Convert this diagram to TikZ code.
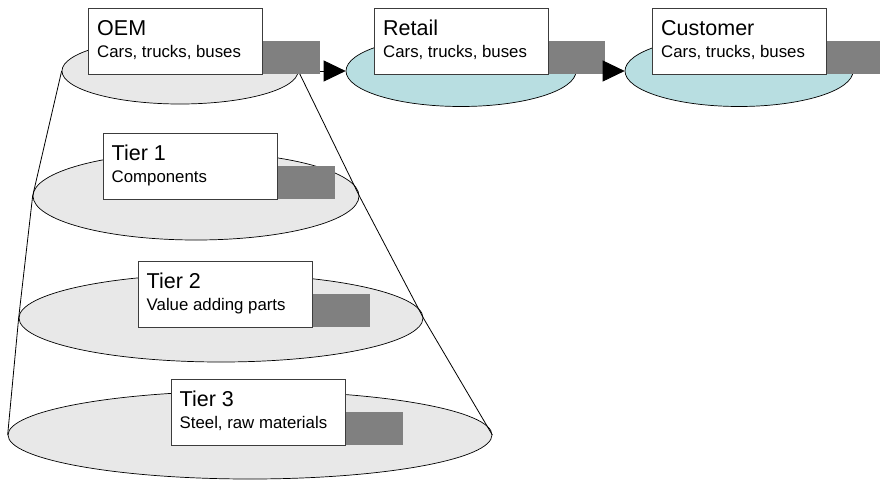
\documentclass[tikz,border=0pt]{standalone}
\usepackage{fontspec}
\setmainfont{Liberation Sans}
\usetikzlibrary{shapes.geometric,arrows.meta,calc}
\definecolor{tierfill}{HTML}{E8E8E8}
\definecolor{flowfill}{HTML}{B8DEE1}
\definecolor{blockgray}{HTML}{808080}
\definecolor{boxline}{HTML}{3C3C3C}
\begin{document}
\begin{tikzpicture}[x=1pt,y=-1pt,
  stage/.style={ellipse, draw=black, line width=0.7pt, inner sep=0pt},
  tier/.style={stage, fill=tierfill},
  flow/.style={stage, fill=flowfill},
  labelbox/.style={draw=boxline, fill=white, line width=0.8pt, minimum width=174pt,
    minimum height=66pt, inner sep=0pt, anchor=north west},
  tab/.style={fill=blockgray, minimum width=58pt, minimum height=33pt, inner sep=0pt,
    anchor=south west},
  title/.style={anchor=base west, inner sep=0pt, font=\fontsize{21.5}{24}\selectfont},
  sub/.style={anchor=base west, inner sep=0pt, font=\fontsize{16.8}{20}\selectfont},
  cone/.style={line width=0.8pt},
  flowarrow/.style={line width=0.8pt, -{Triangle[length=22pt,width=21pt]}}
]
\clip (0,0) rectangle (880,482);

% supply-chain stages along the top
\node[tier, minimum width=236pt, minimum height=66pt] (oem) at (180,71) {};
\node[flow, minimum width=230pt, minimum height=71pt] (retail) at (461,71) {};
\node[flow, minimum width=228pt, minimum height=71pt] (customer) at (739,71) {};

% supplier tiers stacked below the OEM
\node[tier, minimum width=326pt, minimum height=88pt] (t1) at (196,196) {};
\node[tier, minimum width=404pt, minimum height=88pt] (t2) at (221,318) {};
\node[tier, minimum width=484pt, minimum height=88pt] (t3) at (250,435) {};

% sides of the cone
\draw[cone] (oem.west) -- (t1.west) -- (t2.west) -- (t3.west);
\draw[cone] (oem.east) -- (t1.east) -- (t2.east) -- (t3.east);

% gray tabs
\node[tab] (oemtab) at (262,74) {};
\node[tab] (retailtab) at (547,74) {};
\node[tab] (customertab) at (826,74) {};
\node[tab] (t1tab) at (277,199) {};
\node[tab] (t2tab) at (312,327) {};
\node[tab] (t3tab) at (345,445) {};

% label boxes
\node[labelbox] (oembox) at (88,8) {};
\node[labelbox] (retailbox) at (374,8) {};
\node[labelbox] (customerbox) at (652,8) {};
\node[labelbox] (t1box) at (103,133) {};
\node[labelbox] (t2box) at (138,261) {};
\node[labelbox] (t3box) at (171,379) {};

\node[title] (oemtitle) at ($(oembox.north west)+(9,27)$) {OEM};
\node[sub] (oemsub) at ($(oembox.north west)+(9,49)$) {Cars, trucks, buses};
\node[title] (retailtitle) at ($(retailbox.north west)+(9,27)$) {Retail};
\node[sub] (retailsub) at ($(retailbox.north west)+(9,49)$) {Cars, trucks, buses};
\node[title] (customertitle) at ($(customerbox.north west)+(9,27)$) {Customer};
\node[sub] (customersub) at ($(customerbox.north west)+(9,49)$) {Cars, trucks, buses};
\node[title] (t1title) at ($(t1box.north west)+(8.5,27)$) {Tier 1};
\node[sub] (t1sub) at ($(t1box.north west)+(8.5,49)$) {Components};
\node[title] (t2title) at ($(t2box.north west)+(8.5,27)$) {Tier 2};
\node[sub] (t2sub) at ($(t2box.north west)+(8.5,49)$) {Value adding parts};
\node[title] (t3title) at ($(t3box.north west)+(8.5,27)$) {Tier 3};
\node[sub] (t3sub) at ($(t3box.north west)+(8.5,49)$) {Steel, raw materials};

% flow arrows between stages
\draw[flowarrow] (oemtab.east |- retail.west) -- (retail.west);
\draw[flowarrow] (retailtab.east |- customer.west) -- (customer.west);
\end{tikzpicture}
\end{document}
